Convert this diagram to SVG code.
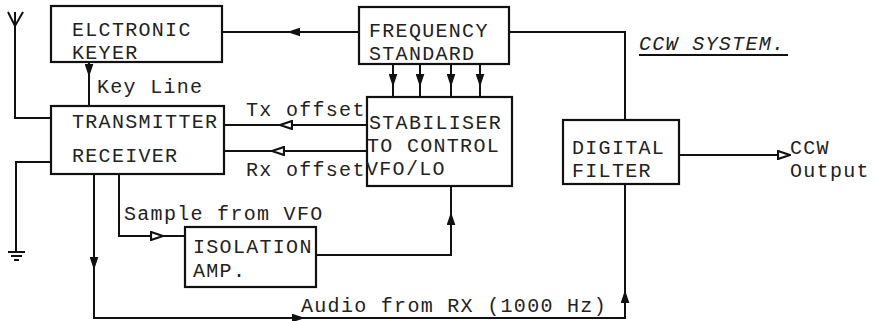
<svg xmlns="http://www.w3.org/2000/svg" width="875" height="321" viewBox="0 0 875 321">
<style>
.box{fill:#fff;stroke:#111;stroke-width:2.2}
.ln{fill:none;stroke:#111;stroke-width:2}
.t{font-family:"Liberation Mono","Courier New",monospace;font-size:20px;letter-spacing:1.3px;fill:#222}
.it{font-style:italic}
</style>
<defs>
<marker id="af" viewBox="0 0 12 8" refX="12" refY="4" markerUnits="userSpaceOnUse" markerWidth="13" markerHeight="9" orient="auto">
<path d="M0,0 L12,4 L0,8 Z" fill="#111"/>
</marker>
<marker id="ao" viewBox="0 0 14 10" refX="13" refY="5" markerUnits="userSpaceOnUse" markerWidth="14" markerHeight="10" orient="auto">
<path d="M1,1 L13,5 L1,9 Z" fill="#fff" stroke="#111" stroke-width="2.2"/>
</marker>
</defs>
<g id="connectors">
<path class="ln" d="M359,32 H222"/>
<path class="ln" d="M300,32 H287" marker-end="url(#af)"/>
<path class="ln" d="M509,32 H625 V120"/>
<path class="ln" d="M393,64 V97 M420,64 V97 M451,64 V97 M480,64 V97"/>
<path class="ln" d="M393,74 V87" marker-end="url(#af)"/>
<path class="ln" d="M420,74 V87" marker-end="url(#af)"/>
<path class="ln" d="M451,74 V87" marker-end="url(#af)"/>
<path class="ln" d="M480,74 V87" marker-end="url(#af)"/>
<path class="ln" d="M89,62 V106"/>
<path class="ln" d="M89,64 V77" marker-end="url(#af)"/>
<path class="ln" d="M367,125 H224"/>
<path class="ln" d="M293,125 H280" marker-end="url(#ao)"/>
<path class="ln" d="M367,151 H224"/>
<path class="ln" d="M285,151 H272" marker-end="url(#ao)"/>
<path class="ln" d="M119,174 V236 H185"/>
<path class="ln" d="M150,236 H163" marker-end="url(#ao)"/>
<path class="ln" d="M316,255 H451 V186"/>
<path class="ln" d="M451,225 V212" marker-end="url(#af)"/>
<path class="ln" d="M94,174 V318 H625 V184"/>
<path class="ln" d="M94,257 V270" marker-end="url(#af)"/>
<path class="ln" d="M292,318 H305" marker-end="url(#af)"/>
<path class="ln" d="M625,303 V290" marker-end="url(#af)"/>
<path class="ln" d="M679,155 H790"/>
<path class="ln" d="M776,155 H790" marker-end="url(#ao)"/>
<path class="ln" d="M15,12 V118 H51"/>
<path class="ln" d="M8,12 L15,26 L23,12"/>
<path class="ln" d="M51,162 H16 V252"/>
<path class="ln" d="M8,252 H25 M11,256 H22 M14,260 H19"/>
</g>
<g id="keyer">
<rect class="box" x="51" y="6" width="171" height="56"/>
<text class="t" x="72" y="36">ELCTRONIC</text>
<text class="t" x="72" y="59">KEYER</text>
</g>
<g id="freq">
<rect class="box" x="359" y="7" width="150" height="57"/>
<text class="t" x="369" y="37">FREQUENCY</text>
<text class="t" x="369" y="60">STANDARD</text>
</g>
<g id="trx">
<rect class="box" x="51" y="106" width="173" height="68"/>
<text class="t" x="72" y="128">TRANSMITTER</text>
<text class="t" x="72" y="162">RECEIVER</text>
</g>
<g id="stab">
<rect class="box" x="367" y="97" width="145" height="89"/>
<text class="t" x="369" y="129">STABILISER</text>
<text class="t" x="367" y="152">TO CONTROL</text>
<text class="t" x="366" y="175">VFO/LO</text>
</g>
<g id="iso">
<rect class="box" x="185" y="227" width="131" height="60"/>
<text class="t" x="193" y="253">ISOLATION</text>
<text class="t" x="193" y="277">AMP.</text>
</g>
<g id="filter">
<rect class="box" x="563" y="120" width="116" height="64"/>
<text class="t" x="572" y="154">DIGITAL</text>
<text class="t" x="572" y="177">FILTER</text>
</g>
<g id="labels">
<text class="t" x="97" y="93">Key Line</text>
<text class="t" x="246" y="116">Tx offset</text>
<text class="t" x="246" y="176">Rx offset</text>
<text class="t" x="124" y="220">Sample from VFO</text>
<text class="t" x="301" y="312">Audio from RX (1000 Hz)</text>
<text class="t" x="790" y="154">CCW</text>
<text class="t" x="790" y="177">Output</text>
<text class="t it" x="639" y="50">CCW SYSTEM.</text>
<path class="ln" d="M639,55 H788" stroke-width="1.5"/>
</g>
</svg>
